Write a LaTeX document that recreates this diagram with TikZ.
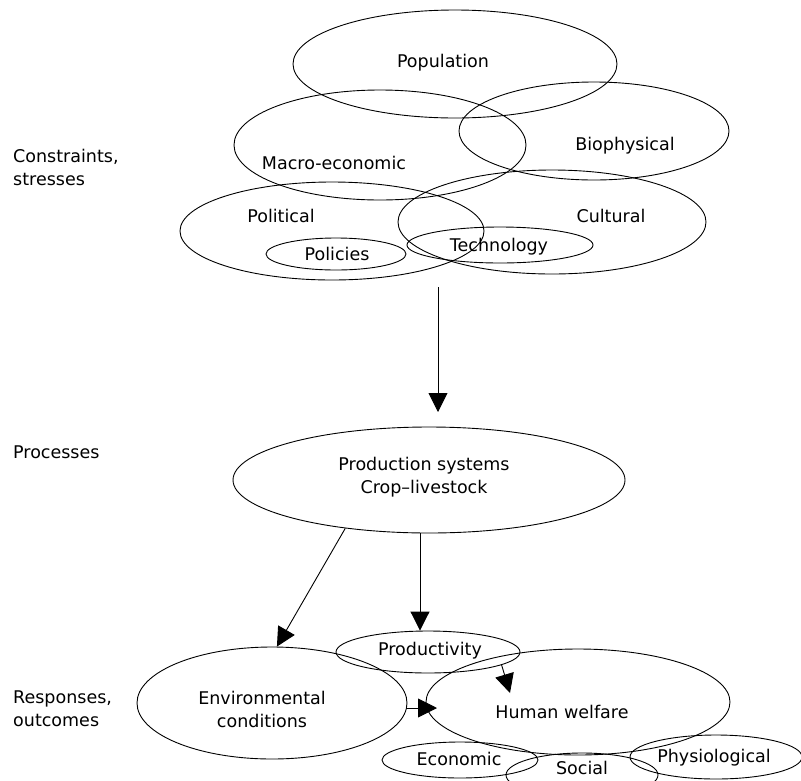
\documentclass[tikz,border=0pt]{standalone}
\usepackage{fontspec}
\setmainfont{DejaVu Sans}
\usetikzlibrary{arrows.meta,shapes.geometric,calc}
\begin{document}
\begin{tikzpicture}[x=1pt,y=-1pt,
  ell/.style={draw,ellipse,inner sep=0pt,line width=0.9pt},
  lbl/.style={font=\fontsize{17.5}{23}\selectfont,inner sep=0pt,align=center},
  side/.style={lbl,anchor=west,align=left},
  arr/.style={-{Triangle[length=19pt,width=19pt]},line width=0.9pt}]
\fill[white] (0,0) rectangle (801,780);
\useasboundingbox (0,0) rectangle (801,780);
\clip (0,0) rectangle (801,780);
% ellipses
\node[ell,minimum width=324pt,minimum height=108pt] (popE) at (455,64) {};
\node[ell,minimum width=292pt,minimum height=110pt] (macE) at (380,145) {};
\node[ell,minimum width=270pt,minimum height=98pt] (bioE) at (594,131) {};
\node[ell,minimum width=304pt,minimum height=98pt] (polE) at (332,231) {};
\node[ell,minimum width=308pt,minimum height=104pt] (culE) at (552,222) {};
\node[ell,minimum width=140pt,minimum height=32pt] (polcE) at (336,254) {};
\node[ell,minimum width=186pt,minimum height=36pt] (tecE) at (500,245) {};
\node[ell,minimum width=392pt,minimum height=106pt] (prodE) at (429,480) {};
\node[ell,minimum width=184pt,minimum height=42pt] (prodtE) at (428,652) {};
\node[ell,minimum width=270pt,minimum height=112pt] (envE) at (272,703) {};
\node[ell,minimum width=304pt,minimum height=106pt] (hwE) at (578,702) {};
\node[ell,minimum width=156pt,minimum height=36pt] (ecoE) at (460,760) {};
\node[ell,minimum width=152pt,minimum height=44pt] (socE) at (582,775) {};
\node[ell,minimum width=172pt,minimum height=44pt] (phyE) at (716,757) {};
% texts
\node[lbl] (popT) at (443,63) {Population};
\node[lbl] (macT) at (334,163) {Macro-economic};
\node[lbl] (bioT) at (625,146) {Biophysical};
\node[lbl] (polT) at (281,216) {Political};
\node[lbl] (culT) at (611,216) {Cultural};
\node[lbl] (polcT) at (337,254) {Policies};
\node[lbl] (tecT) at (499,247) {Technology};
\node[lbl] (prodT) at (424,477) {Production systems\\Crop\textendash livestock};
\node[lbl] (prodtT) at (430,651) {Productivity};
\node[lbl] (envT) at (262,709) {Environmental\\conditions};
\node[lbl] (hwT) at (562,712) {Human welfare};
\node[lbl] (ecoT) at (459,759) {Economic};
\node[lbl] (socT) at (582,768) {Social};
\node[lbl] (phyT) at (714,758) {Physiological};
% side labels
\node[side] (conT) at (13,167) {Constraints,\\stresses};
\node[side] (proT) at (13,452) {Processes};
\node[side] (resT) at (13,709) {Responses,\\outcomes};
% arrows
\coordinate (a1s) at (438,287);
\coordinate (a1e) at (438,412);
\draw[arr] (a1s) -- (a1e);
\draw[arr] (prodE.210) -- (envE.85);
\coordinate (v2) at (420,0);
\draw[arr] (prodE.south -| v2) -- (v2 |- prodtE.north);
\coordinate (ehTip) at (437,708);
\draw[arr] (envE.east |- ehTip) -- (ehTip);
\coordinate (phTip) at (510,693);
\draw[arr] (prodtE.-10) -- (phTip);
\end{tikzpicture}
\end{document}
